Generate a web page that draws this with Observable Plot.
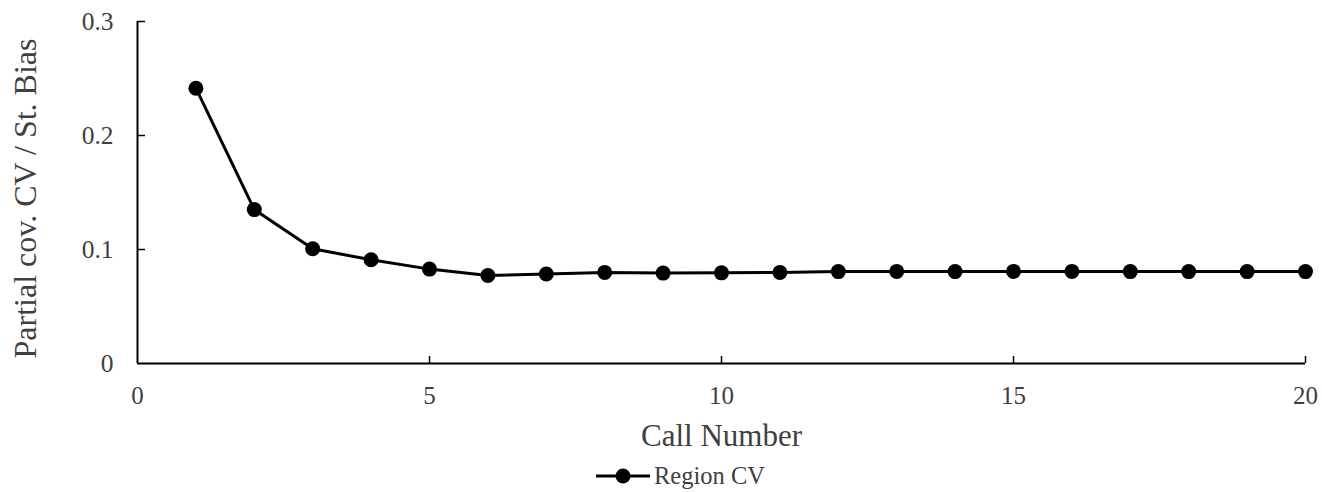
<!DOCTYPE html>
<html>
<head>
<meta charset="utf-8">
<script src="https://cdn.jsdelivr.net/npm/d3@7"></script>
<script src="https://cdn.jsdelivr.net/npm/@observablehq/plot@0.6"></script>
<style>
  html, body { margin: 0; padding: 0; background: #fff; }
  #chart svg { display: block; }
  .legend { display: flex; align-items: center; justify-content: flex-start; height: 32px; padding-left: 596px;
    font-family: "Liberation Serif", "Times New Roman", serif; font-size: 24.5px; color: #404040; }
  .legend svg { display: block; margin-right: 4px; }
</style>
</head>
<body>
<div id="chart"></div>
<script>
const calls = [1,2,3,4,5,6,7,8,9,10,11,12,13,14,15,16,17,18,19,20];
const regionCV = [0.2415, 0.135, 0.1006, 0.091, 0.0828, 0.0772, 0.0785, 0.0799, 0.0793, 0.0795,
                  0.0799, 0.0806, 0.0808, 0.0806, 0.0808, 0.0808, 0.0806, 0.0806, 0.0806, 0.0806];
const xTicks = [0, 5, 10, 15, 20];
const yTicks = [0, 0.1, 0.2, 0.3];
const seriesName = "Region CV";

const data = calls.map((c, i) => ({call: c, value: regionCV[i]}));
const font = "'Liberation Serif', 'Times New Roman', serif";
const textColor = "#404040";

const chart = Plot.plot({
  width: 1322,
  height: 460,
  marginLeft: 137,
  marginRight: 17,
  marginTop: 21,
  marginBottom: 97,
  style: {fontFamily: font, background: "white", overflow: "visible"},
  x: {domain: [0, 20]},
  y: {domain: [0, 0.3]},
  marks: [
    Plot.axisX({ticks: xTicks, tickSize: 0, tickPadding: 23, fontSize: 25, color: textColor,
      label: "Call Number", labelAnchor: "center", labelOffset: 82, labelArrow: "none"}),
    Plot.axisX({ticks: xTicks.slice(1), tickSize: -7, text: null, label: null, stroke: "black", strokeWidth: 1.5}),
    Plot.axisY({ticks: yTicks, tickSize: 0, tickPadding: 24, fontSize: 25.5, color: textColor,
      tickFormat: d => d === 0 ? "0" : d3.format(".1f")(d),
      label: "Partial cov. CV / St. Bias", labelAnchor: "center", labelOffset: 124, labelArrow: "none"}),
    Plot.axisY({ticks: yTicks.slice(1), tickSize: -8, text: null, label: null, stroke: "black", strokeWidth: 1.5}),
    Plot.ruleX([0], {stroke: "black", strokeWidth: 2}),
    Plot.ruleY([0], {stroke: "black", strokeWidth: 2}),
    Plot.line(data, {x: "call", y: "value", stroke: "black", strokeWidth: 3}),
    Plot.dot(data, {x: "call", y: "value", r: 7.5, fill: "black", stroke: "none"})
  ]
});

// style axis labels
d3.select(chart).selectAll("[aria-label='x-axis label'] text")
  .attr("font-size", 31).attr("fill", textColor);
d3.select(chart).selectAll("[aria-label='y-axis label'] text")
  .attr("font-size", 32).attr("fill", textColor).attr("dx", -6);

document.getElementById("chart").appendChild(chart);

// legend below the svg
const legend = document.createElement("div");
legend.className = "legend";
const ls = d3.create("svg").attr("width", 54).attr("height", 20);
ls.append("line").attr("x1", 0).attr("x2", 54).attr("y1", 10).attr("y2", 10).attr("stroke", "black").attr("stroke-width", 3);
ls.append("circle").attr("cx", 27).attr("cy", 10).attr("r", 7.5).attr("fill", "black");
legend.appendChild(ls.node());
const lt = document.createElement("span");
lt.textContent = seriesName;
legend.appendChild(lt);
document.body.appendChild(legend);
</script>
</body>
</html>
